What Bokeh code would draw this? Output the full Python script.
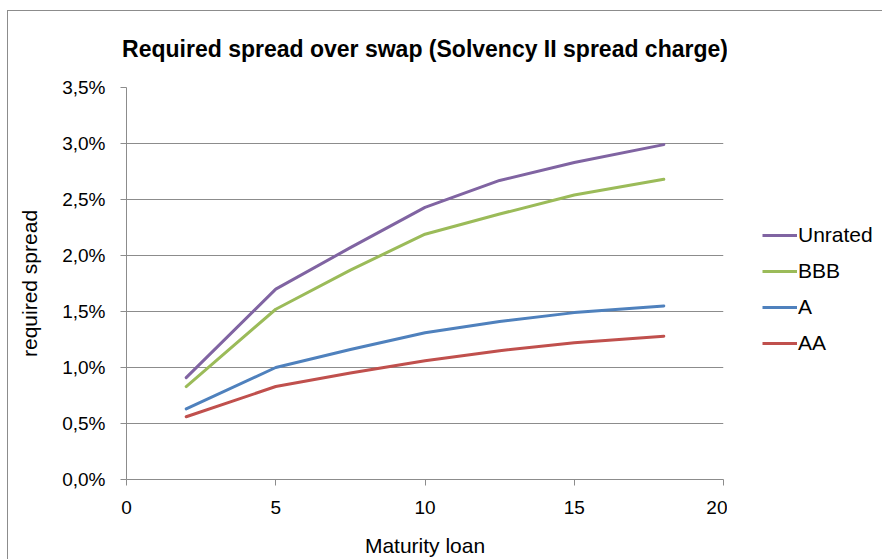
from bokeh.plotting import figure
from bokeh.models import Legend, LegendItem, CustomJSTickFormatter, FixedTicker, Range1d
from bokeh.layouts import row
from bokeh.embed import file_html
from bokeh.resources import INLINE

# ---- data (spread in percent) ----
maturity = [2, 5, 7.5, 10, 12.5, 15, 18]
unrated = [0.91, 1.70, 2.07, 2.43, 2.67, 2.83, 2.99]
bbb = [0.83, 1.52, 1.87, 2.19, 2.37, 2.54, 2.68]
a_rated = [0.63, 1.00, 1.16, 1.31, 1.41, 1.49, 1.55]
aa_rated = [0.56, 0.83, 0.95, 1.06, 1.15, 1.22, 1.28]

series_names = ["Unrated", "BBB", "A", "AA"]
series_values = [unrated, bbb, a_rated, aa_rated]
series_colors = ["#8064A2", "#9BBB59", "#4F81BD", "#C0504D"]

x_ticks = [0, 5, 10, 15, 20]
y_ticks = [0, 0.5, 1.0, 1.5, 2.0, 2.5, 3.0, 3.5]

FONT = "Liberation Sans"
GRID = "#8c8c8c"

# ---- main chart ----
p = figure(width=719, height=548, output_backend="svg", toolbar_location=None,
           x_range=Range1d(0, 20), y_range=Range1d(0, 3.5),
           min_border_left=118, min_border_right=4, min_border_top=76,
           min_border_bottom=80)

p.title.text = "Required spread over swap (Solvency II spread charge)"
p.title.align = "center"
p.title.vertical_align = "top"
p.title.text_font = FONT
p.title.text_font_size = "23px"
p.title.text_font_style = "bold"
p.title.text_color = "#000000"
p.title.standoff = 47

p.outline_line_color = None
p.background_fill_color = "white"
p.border_fill_color = "white"

renderers = []
for name, vals, col in zip(series_names, series_values, series_colors):
    r = p.line(maturity, vals, line_color=col, line_width=3, line_join="round", line_cap="round")
    renderers.append((name, r))

p.xaxis.ticker = FixedTicker(ticks=x_ticks)
p.yaxis.ticker = FixedTicker(ticks=y_ticks)
p.yaxis.formatter = CustomJSTickFormatter(code="return tick.toFixed(1).replace('.', ',') + '%';")
for ax in (p.xaxis, p.yaxis):
    ax.axis_line_color = GRID
    ax.major_tick_line_color = GRID
    ax.major_tick_out = 6
    ax.major_tick_in = 0
    ax.minor_tick_line_color = None
    ax.major_label_text_font = FONT
    ax.major_label_text_font_size = "19px"
    ax.major_label_text_color = "#000000"
    ax.axis_label_text_font = FONT
    ax.axis_label_text_font_size = "21px"
    ax.axis_label_text_font_style = "normal"
    ax.axis_label_text_color = "#000000"

p.xaxis.axis_label = "Maturity loan"
p.yaxis.axis_label = "required spread"
p.yaxis.major_label_standoff = 15
p.xaxis.major_label_standoff = 15
p.yaxis.axis_label_standoff = 18
p.xaxis.axis_label_standoff = 17

p.xgrid.grid_line_color = None
p.ygrid.grid_line_color = GRID
p.ygrid.grid_line_width = 1

# ---- legend panel (same series, drawn out of view so only the legend shows) ----
q = figure(width=155, height=548, output_backend="svg", toolbar_location=None,
           x_range=Range1d(100, 101), y_range=Range1d(100, 101),
           min_border=0)
q.axis.visible = False
q.grid.visible = False
q.outline_line_color = None
q.border_fill_color = "white"
q.background_fill_color = "white"

legend_items = []
for name, vals, col in zip(series_names, series_values, series_colors):
    r2 = q.line(maturity, vals, line_color=col, line_width=3)
    legend_items.append(LegendItem(label=name, renderers=[r2]))

legend = Legend(items=legend_items, location=(35, 124), orientation="vertical")
legend.padding = 0
legend.margin = 0
legend.spacing = 12
legend.glyph_width = 35
legend.glyph_height = 20
legend.label_height = 20
legend.label_standoff = 1
legend.label_text_font = FONT
legend.label_text_font_size = "21px"
legend.label_text_color = "#000000"
legend.border_line_color = None
legend.background_fill_alpha = 0
q.add_layout(legend, "center")

layout = row(p, q, styles={"margin-left": "7px", "margin-top": "10px",
                           "border-left": "1px solid #8c8c8c",
                           "border-top": "1px solid #8c8c8c"})

open("out.html", "w").write(file_html(layout, INLINE))
